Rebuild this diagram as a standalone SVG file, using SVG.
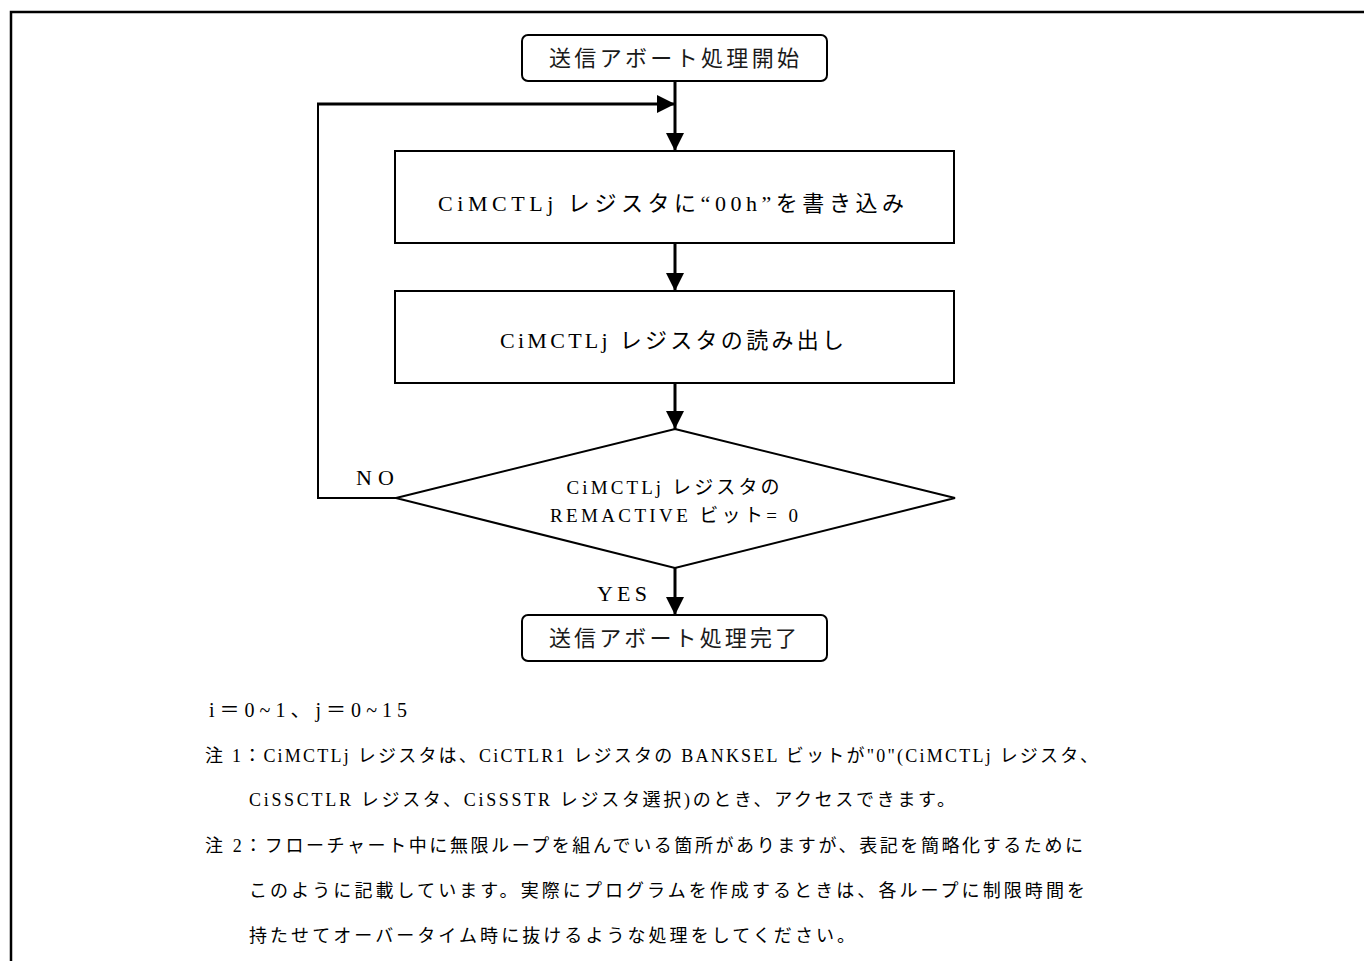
<svg xmlns="http://www.w3.org/2000/svg" width="1364" height="961" viewBox="0 0 1364 961">
<style>
  .bg { fill: #ffffff; }
  .frame { stroke: #000; stroke-width: 2.5; fill: none; }
  .box { fill: #fff; stroke: #000; stroke-width: 2; }
  .conn { stroke: #000; stroke-width: 3; fill: none; }
  .thin { stroke: #000; stroke-width: 2; fill: none; }
  .t { font-family: "Liberation Serif", "Noto Sans CJK JP", serif; fill: #000; }
  .bt { font-size: 22px; text-anchor: middle; }
  .dt { font-size: 19px; text-anchor: middle; }
  .tt { font-size: 22px; text-anchor: middle; font-family: "Noto Sans CJK JP", "Liberation Serif", sans-serif; fill: #1a1a1a; }
  .lbl { font-size: 22px; }
  .note { font-size: 18px; }
</style>
<defs>
  <marker id="arr" markerUnits="userSpaceOnUse" markerWidth="18" markerHeight="18" refX="18" refY="9" orient="auto" viewBox="0 0 18 18">
    <path d="M0,0 L18,9 L0,18 Z" fill="#000"/>
  </marker>
</defs>
<rect class="bg" x="0" y="0" width="1364" height="961"/>
<path class="frame" d="M11,961 L11,12 L1364,12"/>

<g id="connectors">
  <line class="conn" x1="675" y1="81" x2="675" y2="151" marker-end="url(#arr)"/>
  <path class="thin" d="M396,498 L318,498 L318,104"/>
  <line class="conn" x1="317" y1="104" x2="675" y2="104" marker-end="url(#arr)"/>
  <line class="conn" x1="675" y1="243" x2="675" y2="291" marker-end="url(#arr)"/>
  <line class="conn" x1="675" y1="383" x2="675" y2="429" marker-end="url(#arr)"/>
  <line class="conn" x1="675" y1="568" x2="675" y2="615" marker-end="url(#arr)"/>
  <text class="t lbl" x="356" y="485" textLength="38" lengthAdjust="spacing">NO</text>
  <text class="t lbl" x="597" y="601" textLength="50" lengthAdjust="spacing">YES</text>
</g>

<g id="start">
  <rect class="box" x="522" y="35" width="305" height="46" rx="6" ry="6"/>
  <text class="tt" x="674" y="66" textLength="250" lengthAdjust="spacing">送信アボート処理開始</text>
</g>

<g id="write">
  <rect class="box" x="395" y="151" width="559" height="92"/>
  <text class="t bt" x="671" y="211" textLength="466" lengthAdjust="spacing">CiMCTLj レジスタに“00h”を書き込み</text>
</g>

<g id="read">
  <rect class="box" x="395" y="291" width="559" height="92"/>
  <text class="t bt" x="672" y="348" textLength="344" lengthAdjust="spacing">CiMCTLj レジスタの読み出し</text>
</g>

<g id="decision">
  <polygon class="box" points="675,429 955,498 675,568 396,498"/>
  <text class="t dt" x="673" y="494" textLength="213" lengthAdjust="spacing">CiMCTLj レジスタの</text>
  <text class="t dt" x="674" y="522" textLength="248" lengthAdjust="spacing">REMACTIVE ビット= 0</text>
</g>

<g id="end">
  <rect class="box" x="522" y="615" width="305" height="46" rx="6" ry="6"/>
  <text class="tt" x="673" y="646" textLength="248" lengthAdjust="spacing">送信アボート処理完了</text>
</g>

<g id="notes">
  <text class="t" font-size="20" x="209" y="717" textLength="198" lengthAdjust="spacing">i＝0~1、j＝0~15</text>
  <text class="t note" x="205" y="762" textLength="893" lengthAdjust="spacing">注 1：CiMCTLj レジスタは、CiCTLR1 レジスタの BANKSEL ビットが"0"(CiMCTLj レジスタ、</text>
  <text class="t note" x="249" y="806" textLength="706" lengthAdjust="spacing">CiSSCTLR レジスタ、CiSSSTR レジスタ選択)のとき、アクセスできます。</text>
  <text class="t note" x="205" y="852" textLength="878" lengthAdjust="spacing">注 2：フローチャート中に無限ループを組んでいる箇所がありますが、表記を簡略化するために</text>
  <text class="t note" x="249" y="897" textLength="836" lengthAdjust="spacing">このように記載しています。実際にプログラムを作成するときは、各ループに制限時間を</text>
  <text class="t note" x="249" y="942" textLength="606" lengthAdjust="spacing">持たせてオーバータイム時に抜けるような処理をしてください。</text>
</g>
</svg>
